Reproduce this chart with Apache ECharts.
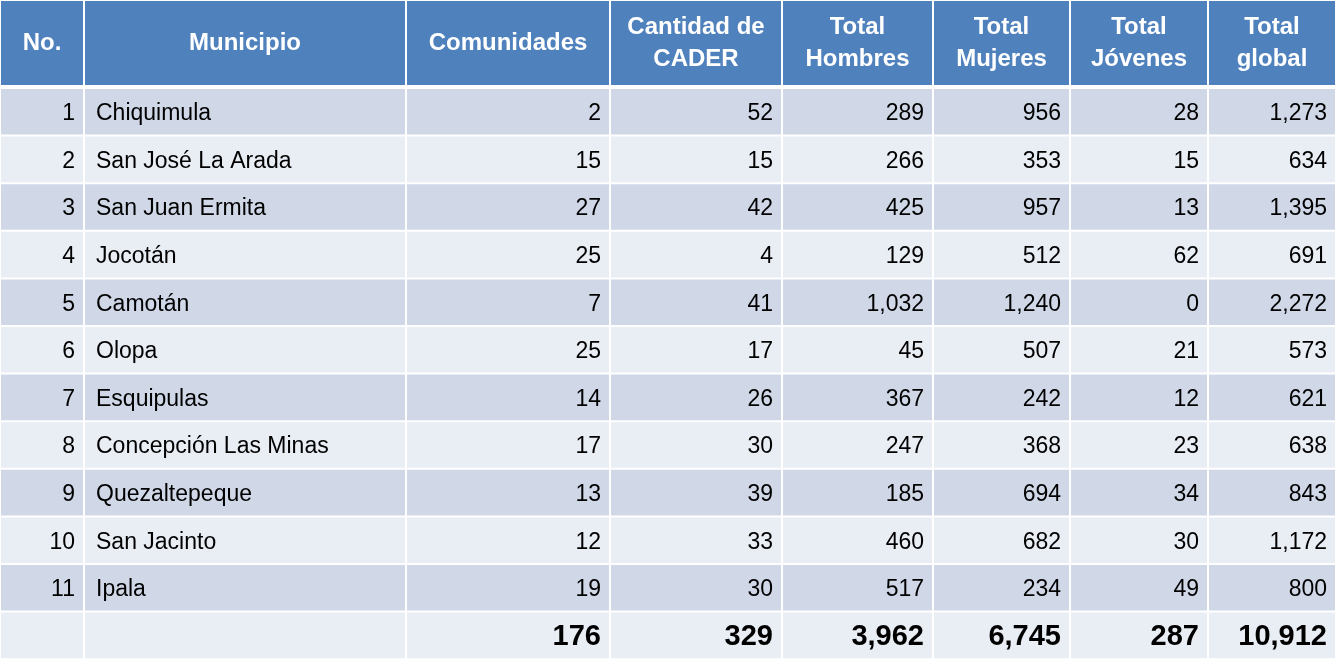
<!DOCTYPE html>
<html><head><meta charset="utf-8">
<script src="https://cdn.jsdelivr.net/npm/echarts@6/dist/echarts.min.js"></script>
<style>html,body{margin:0;padding:0;background:#fff}#c{width:1336px;height:659px}</style>
</head><body><div id="c"></div>
<script>
const headers = ['No.', 'Municipio', 'Comunidades', 'Cantidad de\nCADER', 'Total\nHombres', 'Total\nMujeres', 'Total\nJóvenes', 'Total\nglobal']
const municipios = ['Chiquimula', 'San José La Arada', 'San Juan Ermita', 'Jocotán', 'Camotán', 'Olopa',
  'Esquipulas', 'Concepción Las Minas', 'Quezaltepeque', 'San Jacinto', 'Ipala']
const comunidades = [2, 15, 27, 25, 7, 25, 14, 17, 13, 12, 19]
const cader = [52, 15, 42, 4, 41, 17, 26, 30, 39, 33, 30]
const hombres = [289, 266, 425, 129, 1032, 45, 367, 247, 185, 460, 517]
const mujeres = [956, 353, 957, 512, 1240, 507, 242, 368, 694, 682, 234]
const jovenes = [28, 15, 13, 62, 0, 21, 12, 23, 34, 30, 49]
const global = [1273, 634, 1395, 691, 2272, 573, 621, 638, 843, 1172, 800]
const totals = [176, 329, 3962, 6745, 287, 10912]

// layout (pixel units on hidden axes)
const colEdges = [0, 84, 406, 610, 782, 933, 1070, 1208, 1336]
const headerH = 86
const rowH = 47.6

const fmt = v => v.toLocaleString('en-US')
const rows = [headers]
municipios.forEach((m, i) => rows.push([String(i + 1), m, comunidades[i], cader[i], hombres[i], mujeres[i], jovenes[i], global[i]].map(v => typeof v === 'number' ? fmt(v) : v)))
rows.push(['', ''].concat(totals.map(fmt)))

const cells = []
rows.forEach((r, ri) => r.forEach((t, ci) => cells.push({ value: [ci, ri], label: t })))

const rowTop = ri => ri === 0 ? 0 : headerH + 2 + (ri - 1) * rowH
const rowBot = ri => ri === 0 ? headerH : headerH + 2 + ri * rowH

function renderItem(params, api) {
  const ci = api.value(0), ri = api.value(1)
  const p0 = api.coord([colEdges[ci], rowTop(ri)])
  const p1 = api.coord([colEdges[ci + 1], rowBot(ri)])
  const x = p0[0] + 1, y = p0[1] + 1, w = p1[0] - p0[0] - 2, h = p1[1] - p0[1] - 2
  const isHead = ri === 0, isTotal = ri === rows.length - 1
  let fill = isHead ? '#4f81bd' : (isTotal ? '#e9edf4' : (ri % 2 ? '#d0d8e8' : '#e9edf4'))
  const align = isHead ? 'center' : (ci === 1 ? 'left' : 'right')
  const tx = align === 'center' ? x + w / 2 : align === 'left' ? x + 11 : x + w - 8
  const text = rows[ri][ci]
  return {
    type: 'group',
    children: [
      { type: 'rect', shape: { x, y, width: w, height: h }, style: { fill } },
      { type: 'text', style: {
        x: tx, y: y + h / 2 + (isHead ? 0 : 2), text, align, verticalAlign: 'middle',
        fill: isHead ? '#fff' : '#000',
        font: (isHead ? 'bold 24px' : isTotal ? 'bold 29px' : '23px') + ' "Liberation Sans Narrow", "Liberation Sans", sans-serif',
        lineHeight: 32
      } }
    ]
  }
}

const chart = echarts.init(document.getElementById('c'))
chart.setOption({
  animation: false,
  grid: { left: 0, right: 0, top: 0, bottom: 0 },
  xAxis: { type: 'value', min: 0, max: 1336, show: false },
  yAxis: { type: 'value', min: 0, max: 659, inverse: true, show: false },
  series: [{ type: 'custom', renderItem, data: cells }]
})
</script></body></html>
